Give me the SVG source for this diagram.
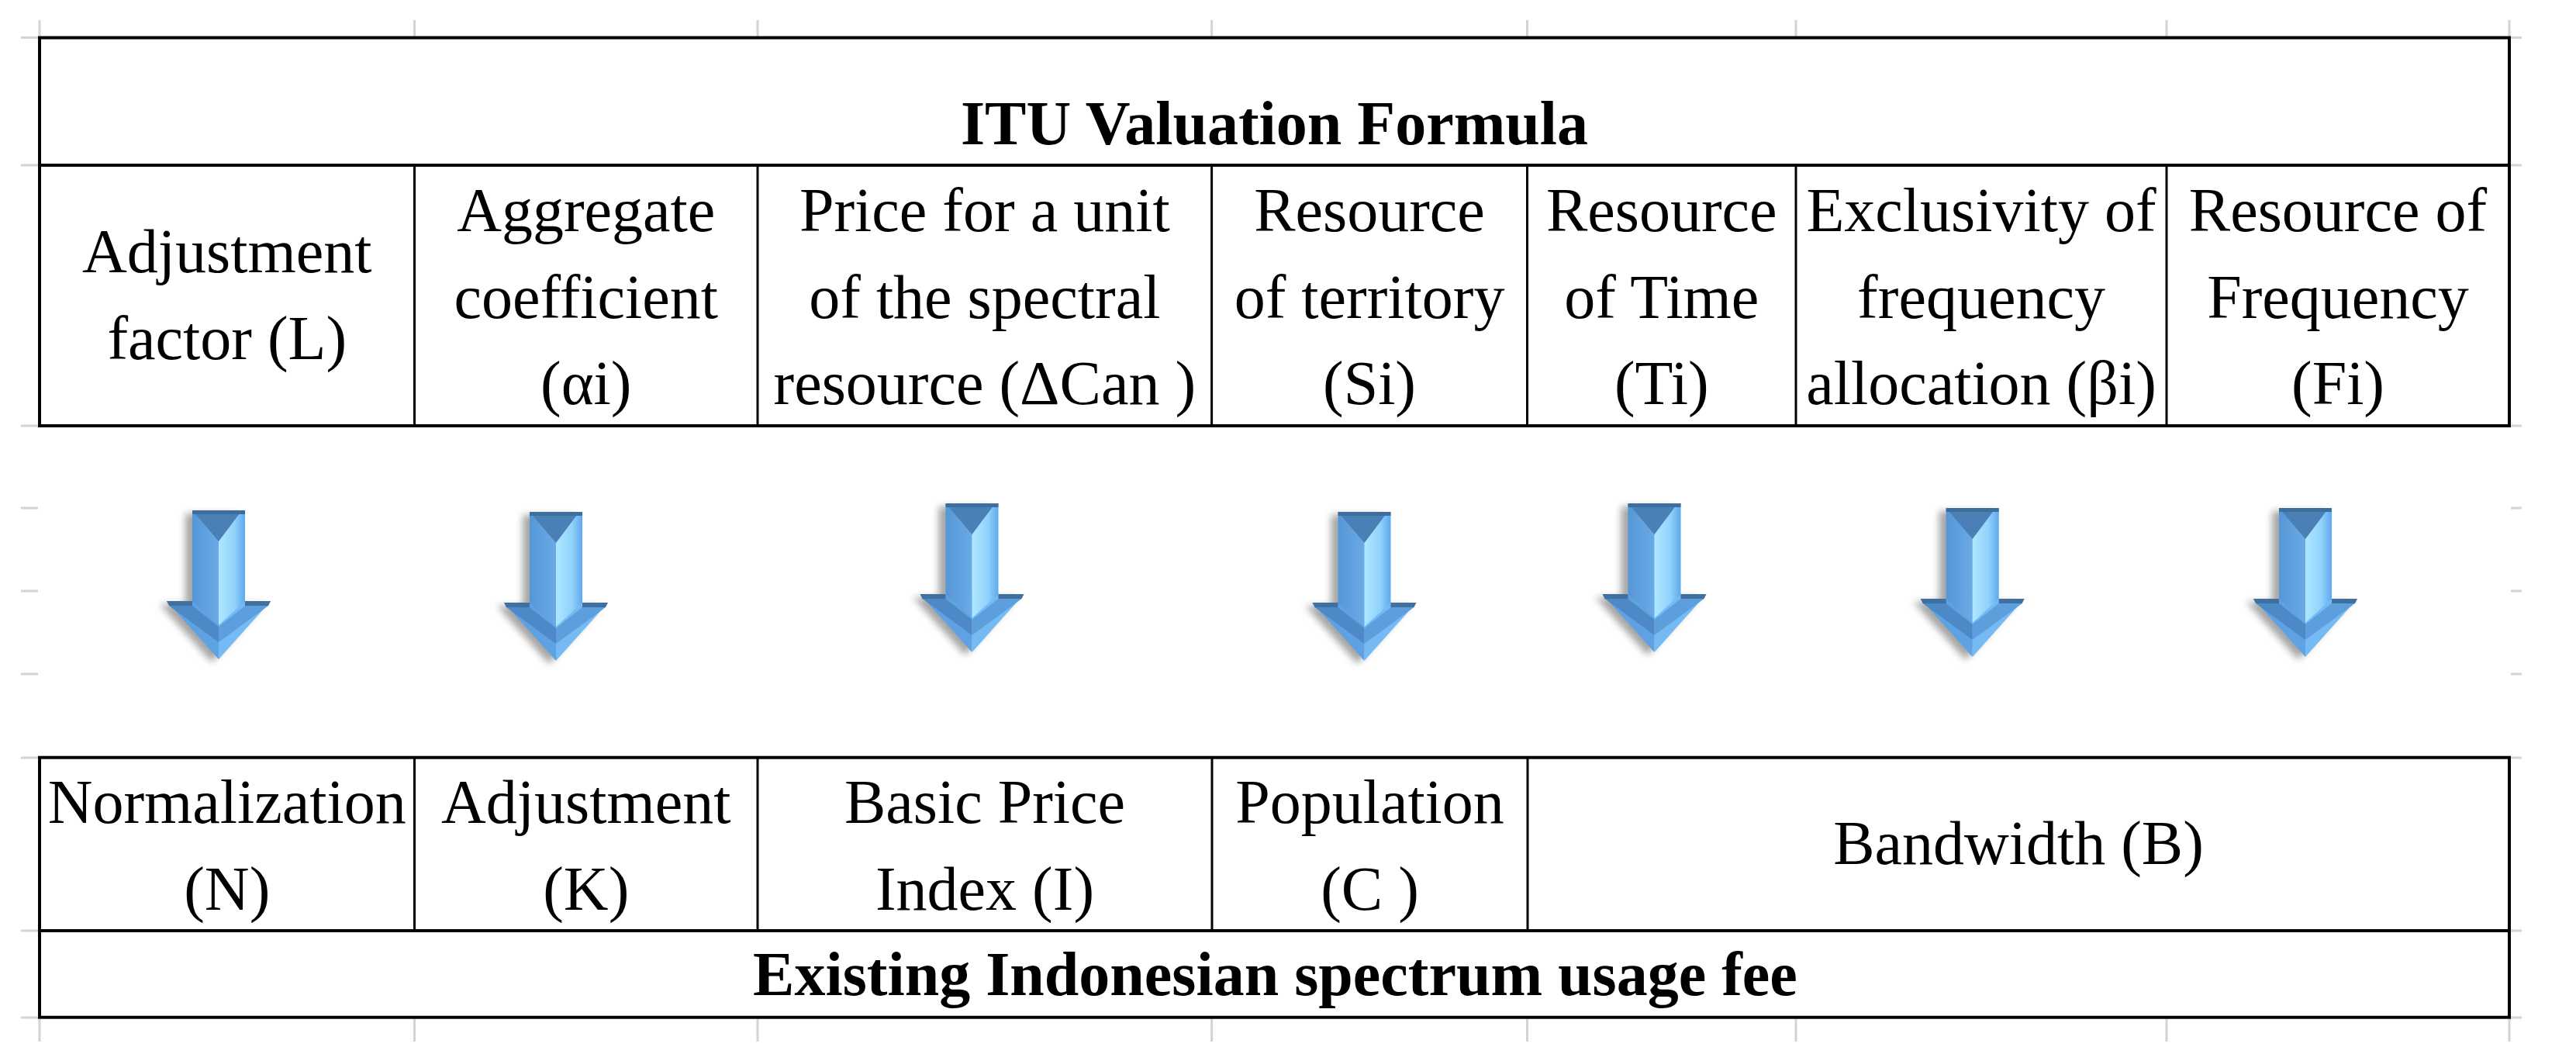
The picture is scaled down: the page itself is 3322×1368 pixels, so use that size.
<svg xmlns="http://www.w3.org/2000/svg" xmlns:xlink="http://www.w3.org/1999/xlink" width="3322" height="1368" viewBox="0 0 3322 1368">
<style>
.t{font-family:"Liberation Serif","Times New Roman",serif;font-size:80px;fill:#000;text-anchor:middle}
.b{font-weight:bold}
.grid{stroke:#d4d4d4;stroke-width:3;fill:none}
.frame{stroke:#000;stroke-width:4;fill:none}
.col{stroke:#000;stroke-width:3;fill:none}
</style>
<defs>
<filter id="blur" x="-50%" y="-50%" width="200%" height="200%"><feGaussianBlur stdDeviation="5"/></filter>
<linearGradient id="shL" x1="0" y1="0" x2="1" y2="0"><stop offset="0" stop-color="#5596d6"/><stop offset="1" stop-color="#6aaae6"/></linearGradient>
<linearGradient id="shR" x1="0" y1="0" x2="1" y2="0"><stop offset="0" stop-color="#aee8ff"/><stop offset="0.6" stop-color="#92d2fb"/><stop offset="1" stop-color="#5ea8ee"/></linearGradient>
<g id="arw">
<polygon points="-34,0 34,0 34,117 67,117 0,192 -67,117 -34,117" fill="#000" opacity="0.35" filter="url(#blur)" transform="translate(-9,4)"/>
<polygon points="-67,117 0,117 0,192" fill="#5ea2e3"/>
<polygon points="0,117 67,117 0,192" fill="#76baf4"/>
<polygon points="-64,123 -34,123 0,150 0,170" fill="#4d89c6"/>
<polygon points="64,123 34,123 0,150 0,170" fill="#5d9fdc"/>
<polygon points="-67,117 -34,117 -34,123 -64,123" fill="#3f70a0"/>
<polygon points="34,117 67,117 64,123 34,123" fill="#3f70a0"/>
<polygon points="-34,0 0,0 0,148 -34,117" fill="url(#shL)"/>
<polygon points="0,0 34,0 34,117 0,148" fill="url(#shR)"/>
<polygon points="-34,0 30,0 0,40" fill="#4a80b5"/>
<rect x="-34" y="0" width="68" height="5" fill="#3e6e9e"/>
</g>
</defs>
<rect width="3322" height="1368" fill="#fff"/>
<g id="gridlines" class="grid">
<path d="M51,26V47M534.5,26V47M977,26V47M1562.6,26V47M1969.5,26V47M2316,26V47M2794,26V47M3236,26V47"/>
<path d="M51,1314V1343M534.5,1314V1343M977,1314V1343M1562.6,1314V1343M1969.5,1314V1343M2316,1314V1343M2794,1314V1343M3236,1314V1343"/>
<path d="M27,48.6H49M27,213H49M27,549H49M27,655H49M27,762H49M27,869H49M27,977H49M27,1200H49M27,1312H49"/>
<path d="M3238,48.6H3252M3238,213H3252M3238,549H3252M3238,655H3252M3238,762H3252M3238,869H3252M3238,977H3252M3238,1200H3252M3238,1312H3252"/>
</g>
<g id="top-table">
<rect class="frame" x="51" y="48.6" width="3185" height="500.4"/>
<line class="frame" x1="51" y1="213" x2="3236" y2="213"/>
<path class="col" d="M534.5,213V549M977,213V549M1562.6,213V549M1969.5,213V549M2316,213V549M2794,213V549"/>
</g>
<g id="title"><text class="t b" x="1643.5" y="186">ITU Valuation Formula</text></g>
<g id="h1"><text class="t" x="292.75" y="351">Adjustment</text><text class="t" x="292.75" y="463">factor (L)</text></g>
<g id="h2"><text class="t" x="755.75" y="298">Aggregate</text><text class="t" x="755.75" y="409.5">coefficient</text><text class="t" x="755.75" y="521">(αi)</text></g>
<g id="h3"><text class="t" x="1269.8" y="298">Price for a unit</text><text class="t" x="1269.8" y="409.5">of the spectral</text><text class="t" x="1269.8" y="521">resource (ΔCan )</text></g>
<g id="h4"><text class="t" x="1766" y="298">Resource</text><text class="t" x="1766" y="409.5">of territory</text><text class="t" x="1766" y="521">(Si)</text></g>
<g id="h5"><text class="t" x="2142.75" y="298">Resource</text><text class="t" x="2142.75" y="409.5">of Time</text><text class="t" x="2142.75" y="521">(Ti)</text></g>
<g id="h6"><text class="t" x="2555" y="298">Exclusivity of</text><text class="t" x="2555" y="409.5">frequency</text><text class="t" x="2555" y="521">allocation (βi)</text></g>
<g id="h7"><text class="t" x="3015" y="298">Resource of</text><text class="t" x="3015" y="409.5">Frequency</text><text class="t" x="3015" y="521">(Fi)</text></g>
<g id="connectors">
<use href="#arw" transform="translate(282,658)"/>
<use href="#arw" transform="translate(717,660)"/>
<use href="#arw" transform="translate(1253.5,649)"/>
<use href="#arw" transform="translate(1759.5,660)"/>
<use href="#arw" transform="translate(2133.5,649)"/>
<use href="#arw" transform="translate(2543.7,655)"/>
<use href="#arw" transform="translate(2973,655)"/>
</g>
<g id="bottom-table">
<rect class="frame" x="51" y="976.7" width="3185" height="335"/>
<line class="frame" x1="51" y1="1200" x2="3236" y2="1200"/>
<path class="col" d="M534.5,976.7V1200M977,976.7V1200M1563,976.7V1200M1970,976.7V1200"/>
</g>
<g id="b1"><text class="t" x="292.75" y="1061">Normalization</text><text class="t" x="292.75" y="1172.7">(N)</text></g>
<g id="b2"><text class="t" x="755.75" y="1061">Adjustment</text><text class="t" x="755.75" y="1172.7">(K)</text></g>
<g id="b3"><text class="t" x="1270" y="1061">Basic Price</text><text class="t" x="1270" y="1172.7">Index (I)</text></g>
<g id="b4"><text class="t" x="1766.5" y="1061">Population</text><text class="t" x="1766.5" y="1172.7">(C )</text></g>
<g id="b5"><text class="t" x="2603" y="1114">Bandwidth (B)</text></g>
<g id="footer"><text class="t b" x="1644.5" y="1283">Existing Indonesian spectrum usage fee</text></g>
</svg>
